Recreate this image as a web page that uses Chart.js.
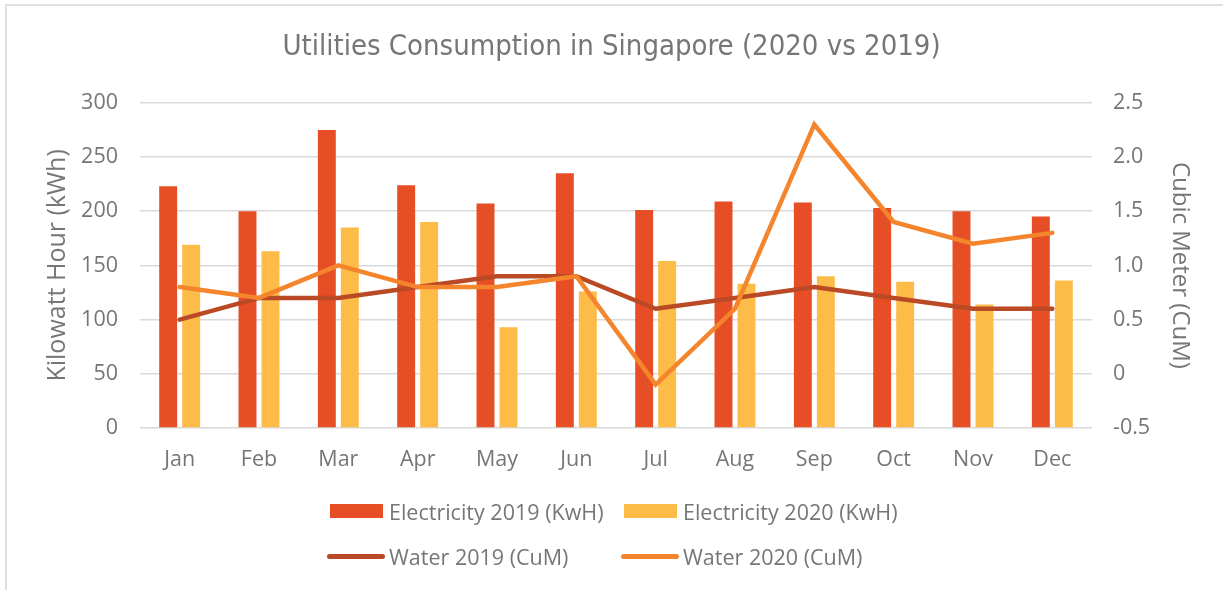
<!DOCTYPE html>
<html>
<head>
<meta charset="utf-8">
<script src="https://cdn.jsdelivr.net/npm/chart.js@4"></script>
<style>
    body { margin: 0; background: #fff; }
    #frame {
        position: absolute; left: 5px; top: 4px; width: 1230px; height: 600px;
        border-left: 2px solid #e0e0e0; border-top: 2px solid #e0e0e0;
    }
    #wrap { position: absolute; left: 0; top: 0; width: 1223px; height: 590px; }
    #legenda {
        position: absolute; left: 0; top: 496px; width: 1223px;
        font-family: "Open Sans", "Noto Sans", sans-serif; font-size: 21.5px; color: #767676;
    }
    .linha { position: absolute; display: flex; align-items: center; white-space: nowrap; height: 30px; }
    .caixa { display: inline-block; }
</style>
</head>
<body>
<div id="frame"></div>
<div id="wrap"><canvas id="graficoUtilidades" width="1223" height="590"></canvas></div>
<div id="legenda"></div>
<script>
// dados
const meses = ['Jan', 'Feb', 'Mar', 'Apr', 'May', 'Jun', 'Jul', 'Aug', 'Sep', 'Oct', 'Nov', 'Dec'];
const eletricidade2019 = [223, 200, 275, 224, 207, 235, 201, 209, 208, 203, 200, 195];
const eletricidade2020 = [169, 163, 185, 190, 93, 126, 154, 133, 140, 135, 114, 136];
const agua2019 = [0.5, 0.7, 0.7, 0.8, 0.9, 0.9, 0.6, 0.7, 0.8, 0.7, 0.6, 0.6];
const agua2020 = [0.8, 0.7, 1.0, 0.8, 0.8, 0.9, -0.1, 0.6, 2.3, 1.4, 1.2, 1.3];
const ticksKwh = [0, 50, 100, 150, 200, 250, 300];
const ticksCum = [-0.5, 0, 0.5, 1, 1.5, 2, 2.5];

const corTexto = '#767676';
const fonteEixo = { family: '"Open Sans", "Noto Sans", sans-serif', size: 21.5 };

document.addEventListener("DOMContentLoaded", () => {
    const ctx = document.getElementById('graficoUtilidades').getContext('2d');

    const grafico = new Chart(ctx, {
        type: 'bar',
        data: {
            labels: meses,
            datasets: [
                {
                    label: 'Electricity 2019 (KwH)',
                    data: eletricidade2019,
                    backgroundColor: '#E64E25',
                    yAxisID: 'y',
                    order: 3,
                    categoryPercentage: 0.58,
                    barPercentage: 0.78
                },
                {
                    label: 'Electricity 2020 (KwH)',
                    data: eletricidade2020,
                    backgroundColor: '#FDBB48',
                    yAxisID: 'y',
                    order: 3,
                    categoryPercentage: 0.58,
                    barPercentage: 0.78
                },
                {
                    type: 'line',
                    label: 'Water 2019 (CuM)',
                    data: agua2019,
                    borderColor: '#B94A25',
                    backgroundColor: '#B94A25',
                    borderWidth: 4.5,
                    pointRadius: 0,
                    borderCapStyle: 'round',
                    yAxisID: 'y1',
                    order: 2
                },
                {
                    type: 'line',
                    label: 'Water 2020 (CuM)',
                    data: agua2020,
                    borderColor: '#F5852D',
                    backgroundColor: '#F5852D',
                    borderWidth: 4.5,
                    pointRadius: 0,
                    borderCapStyle: 'round',
                    yAxisID: 'y1',
                    order: 1
                }
            ]
        },
        options: {
            responsive: false,
            animation: false,
            layout: { padding: 0 },
            plugins: {
                legend: { display: false },
                tooltip: { enabled: false },
                title: {
                    display: true,
                    text: 'Utilities Consumption in Singapore (2020 vs 2019)',
                    color: corTexto,
                    font: { family: '"Liberation Sans Narrow", "DejaVu Sans Condensed", sans-serif', size: 29, weight: 'normal' },
                    padding: { top: 30, bottom: 38 }
                }
            },
            scales: {
                x: {
                    grid: { display: false, drawTicks: false },
                    border: { display: false },
                    ticks: { color: corTexto, font: fonteEixo, padding: 19 },
                    afterFit: (s) => { s.height = 162; }
                },
                y: {
                    position: 'left',
                    min: 0,
                    max: 300,
                    afterBuildTicks: (s) => { s.ticks = ticksKwh.map(v => ({ value: v })); },
                    grid: { color: '#d9d9d9', lineWidth: 1.5, drawTicks: false },
                    border: { display: false },
                    ticks: { color: corTexto, font: fonteEixo, padding: 22 },
                    title: {
                        display: true,
                        text: 'Kilowatt Hour (kWh)',
                        color: corTexto,
                        font: { family: fonteEixo.family, size: 25 },
                        padding: { top: 43 }
                    },
                    afterFit: (s) => { s.width = 140; }
                },
                y1: {
                    position: 'right',
                    min: -0.5,
                    max: 2.5,
                    afterBuildTicks: (s) => { s.ticks = ticksCum.map(v => ({ value: v })); },
                    grid: { display: false, drawTicks: false },
                    border: { display: false },
                    ticks: { color: corTexto, font: fonteEixo, padding: 21 },
                    title: {
                        display: true,
                        text: 'Cubic Meter (CuM)',
                        color: corTexto,
                        font: { family: fonteEixo.family, size: 24 },
                        padding: { top: 29 }
                    },
                    afterFit: (s) => { s.width = 131; }
                }
            }
        }
    });

    // legenda em HTML, duas por linha como no original
    const legenda = document.getElementById('legenda');
    const posicoes = [[330, 15], [624, 15], [327, 60], [621, 60]];
    grafico.data.datasets.forEach((ds, i) => {
        const item = document.createElement('div');
        item.className = 'linha';
        item.style.left = posicoes[i][0] + 'px';
        item.style.top = (posicoes[i][1] - 15) + 'px';
        const caixa = document.createElement('span');
        caixa.className = 'caixa';
        if (ds.type === 'line') {
            caixa.style.width = '58px';
            caixa.style.height = '5px';
            caixa.style.borderRadius = '3px';
            caixa.style.marginRight = '4px';
        } else {
            caixa.style.width = '53px';
            caixa.style.height = '14px';
            caixa.style.marginRight = '6px';
        }
        caixa.style.background = ds.backgroundColor;
        item.appendChild(caixa);
        item.appendChild(document.createTextNode(ds.label));
        legenda.appendChild(item);
    });
});
</script>
</body>
</html>
